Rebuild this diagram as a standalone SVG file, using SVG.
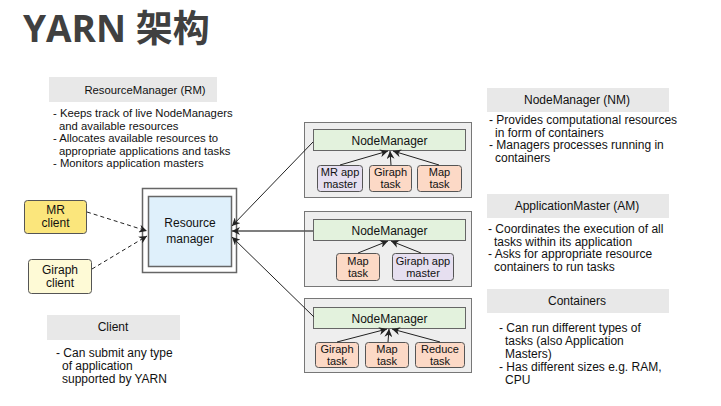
<svg xmlns="http://www.w3.org/2000/svg" width="721" height="406" viewBox="0 0 721 406">
<defs>
<marker id="ah" viewBox="0 0 10 10" refX="10" refY="5" markerWidth="8" markerHeight="8" markerUnits="userSpaceOnUse" orient="auto"><path d="M0,0 L10,5 L0,10 L3,5 Z" fill="#222"/></marker>
</defs>
<style>
text{font-family:"Liberation Sans",Arial,sans-serif;font-size:11px;fill:#111}
.c{text-anchor:middle}
.b{font-size:12px}
.r{font-size:11.3px}
.hdr{fill:#e8e8e8}
.nmo{fill:#eeeeee;stroke:#777;stroke-width:1}
.nmb{fill:#e3f2dd;stroke:#666;stroke-width:1}
.pur{fill:#e6dff0;stroke:#555;stroke-width:1}
.sal{fill:#fcd9c6;stroke:#555;stroke-width:1}
.ln{stroke:#222;stroke-width:1;fill:none;marker-end:url(#ah)}
.dash{stroke:#222;stroke-width:1;fill:none;stroke-dasharray:4,3;marker-end:url(#ah)}
</style>
<rect width="721" height="406" fill="#fff"/>
<text x="23" y="42" style="font-family:'Open Sans','Noto Sans CJK SC',sans-serif;font-size:37px;font-weight:bold;fill:#404040">YARN 架构</text>

<g id="rm-info">
<rect class="hdr" x="49" y="77" width="168" height="25"/>
<text class="c r" x="145" y="94">ResourceManager (RM)</text>
<text class="r" x="53" y="117">- Keeps track of live NodeManagers</text>
<text class="r" x="59" y="129.5">and available resources</text>
<text class="r" x="53" y="142">- Allocates available resources to</text>
<text class="r" x="59" y="154.5">appropriate applications and tasks</text>
<text class="r" x="53" y="167">- Monitors application masters</text>
</g>

<g id="client-info">
<rect class="hdr" x="47" y="315" width="133" height="25"/>
<text class="c b" x="113" y="331">Client</text>
<text class="b" x="56" y="357">- Can submit any type</text>
<text class="b" x="62" y="370">of application</text>
<text class="b" x="62" y="383">supported by YARN</text>
</g>

<g id="nm-info">
<rect class="hdr" x="487" y="88" width="182" height="24"/>
<text class="c b" x="577" y="104">NodeManager (NM)</text>
<text class="b" x="489" y="124">- Provides computational resources</text>
<text class="b" x="495" y="136.5">in form of containers</text>
<text class="b" x="489" y="149">- Managers processes running in</text>
<text class="b" x="495" y="161.5">containers</text>
</g>

<g id="am-info">
<rect class="hdr" x="487" y="194" width="182" height="24"/>
<text class="c b" x="577" y="210">ApplicationMaster (AM)</text>
<text class="b" x="488" y="233">- Coordinates the execution of all</text>
<text class="b" x="494" y="245.5">tasks within its application</text>
<text class="b" x="488" y="258">- Asks for appropriate resource</text>
<text class="b" x="494" y="270.5">containers to run tasks</text>
</g>

<g id="containers-info">
<rect class="hdr" x="487" y="289" width="182" height="24"/>
<text class="c b" x="577" y="305">Containers</text>
<text class="b" x="499" y="332">- Can run different types of</text>
<text class="b" x="505" y="345">tasks (also Application</text>
<text class="b" x="505" y="358">Masters)</text>
<text class="b" x="499" y="371">- Has different sizes e.g. RAM,</text>
<text class="b" x="505" y="384">CPU</text>
</g>

<g id="mr-client">
<rect x="24.5" y="200.5" width="62" height="33" rx="3" fill="#fbe67c" stroke="#555"/>
<text class="c b" x="55.5" y="214">MR</text>
<text class="c b" x="55.5" y="227">client</text>
</g>

<g id="giraph-client">
<rect x="28.5" y="259.5" width="63" height="34" rx="3" fill="#fefad6" stroke="#555"/>
<text class="c b" x="60" y="274">Giraph</text>
<text class="c b" x="60" y="287">client</text>
</g>

<g id="resource-manager">
<rect x="142.5" y="188.5" width="94" height="84" fill="#fff" stroke="#666" stroke-width="1.5"/>
<rect x="148.5" y="196.5" width="83" height="70" fill="#dff0fb" stroke="#666" stroke-width="1.5"/>
<text class="c" x="190" y="227" style="font-size:12px">Resource</text>
<text class="c" x="190" y="243" style="font-size:12px">manager</text>
</g>

<g id="node1">
<rect class="nmo" x="304.5" y="122.5" width="167" height="75"/>
<rect class="nmb" x="313.5" y="129.5" width="152" height="21"/>
<text class="c" x="389.5" y="144.5" style="font-size:12px">NodeManager</text>
<rect class="pur" x="317.5" y="165.5" width="45" height="26" rx="3"/>
<text class="c" x="340" y="176">MR app</text>
<text class="c" x="340" y="188">master</text>
<rect class="sal" x="369.5" y="165.5" width="42" height="26" rx="3"/>
<text class="c" x="390.5" y="176">Giraph</text>
<text class="c" x="390.5" y="188">task</text>
<rect class="sal" x="417.5" y="165.5" width="44" height="26" rx="3"/>
<text class="c" x="439.5" y="176">Map</text>
<text class="c" x="439.5" y="188">task</text>
</g>

<g id="node2">
<rect class="nmo" x="304.5" y="211.5" width="167" height="75"/>
<rect class="nmb" x="313.5" y="219.5" width="152" height="21"/>
<text class="c" x="389.5" y="234.5" style="font-size:12px">NodeManager</text>
<rect class="sal" x="336.5" y="253.5" width="43" height="27" rx="3"/>
<text class="c" x="358" y="265">Map</text>
<text class="c" x="358" y="277">task</text>
<rect class="pur" x="392.5" y="253.5" width="61" height="27" rx="3"/>
<text class="c" x="423" y="265">Giraph app</text>
<text class="c" x="423" y="277">master</text>
</g>

<g id="node3">
<rect class="nmo" x="304.5" y="298.5" width="167" height="74"/>
<rect class="nmb" x="313.5" y="307.5" width="152" height="21"/>
<text class="c" x="389.5" y="322.5" style="font-size:12px">NodeManager</text>
<rect class="sal" x="315.5" y="342.5" width="43" height="25" rx="3"/>
<text class="c" x="337" y="353">Giraph</text>
<text class="c" x="337" y="365">task</text>
<rect class="sal" x="365.5" y="342.5" width="43" height="25" rx="3"/>
<text class="c" x="387" y="353">Map</text>
<text class="c" x="387" y="365">task</text>
<rect class="sal" x="415.5" y="342.5" width="49" height="25" rx="3"/>
<text class="c" x="440" y="353">Reduce</text>
<text class="c" x="440" y="365">task</text>
</g>

<g id="connectors">
<line class="dash" x1="87" y1="212" x2="147" y2="231"/>
<line class="dash" x1="92" y1="269" x2="147" y2="236"/>
<line class="ln" x1="313" y1="142" x2="232" y2="226"/>
<line class="ln" x1="313" y1="231" x2="232" y2="231" style="stroke:#555;stroke-width:1.6"/>
<line class="ln" x1="314" y1="317" x2="232" y2="237"/>
<line class="ln" x1="340" y1="165" x2="388" y2="151"/>
<line class="ln" x1="391" y1="165" x2="390" y2="151"/>
<line class="ln" x1="439" y1="165" x2="393" y2="151"/>
<line class="ln" x1="358" y1="253" x2="388" y2="241"/>
<line class="ln" x1="421" y1="253" x2="391" y2="241"/>
<line class="ln" x1="337" y1="342" x2="387" y2="329"/>
<line class="ln" x1="388" y1="342" x2="389" y2="329"/>
<line class="ln" x1="440" y1="342" x2="392" y2="329"/>
</g>
</svg>
